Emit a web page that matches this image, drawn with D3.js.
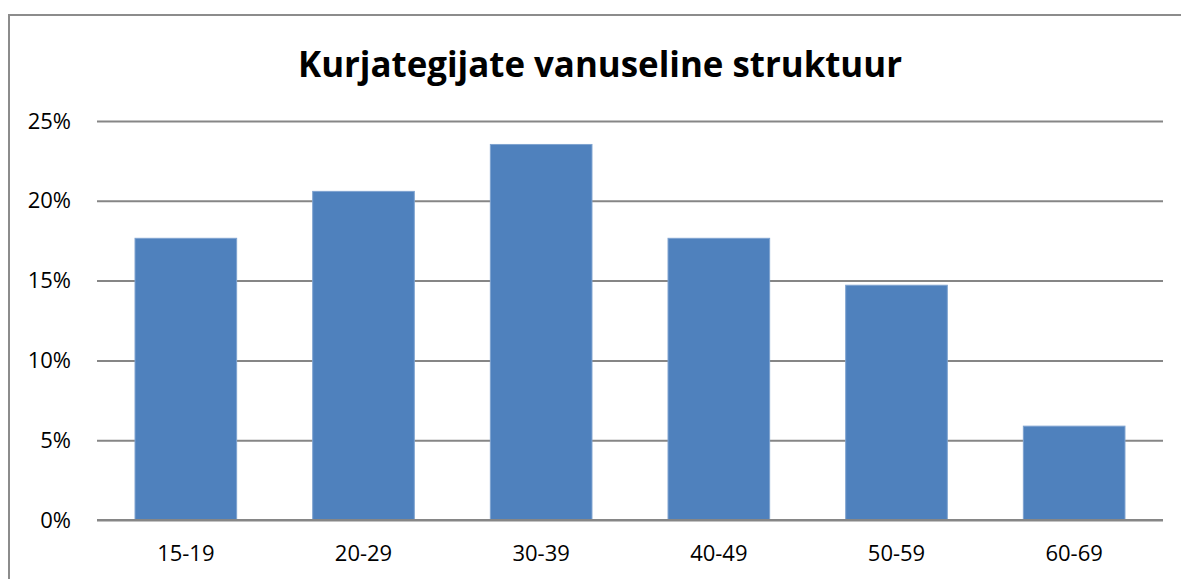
<!DOCTYPE html>
<html lang="et">
<head>
  <meta charset="UTF-8" />
  <title>Kurjategijate vanuseline struktuur</title>
  <script src="https://d3js.org/d3.v7.min.js"></script>
  <style>
    body {margin: 0; background: #fff;}
    svg {display: block; font-family: "Open Sans", "Noto Sans", sans-serif;}
  </style>
</head>
<body>
<script>
  // ****DATA****
  const ageGroups = ["15-19", "20-29", "30-39", "40-49", "50-59", "60-69"];
  const shares = [0.1765, 0.2059, 0.2353, 0.1765, 0.1471, 0.0588];
  const yTicks = [0, 0.05, 0.10, 0.15, 0.20, 0.25];
  const chartTitle = "Kurjategijate vanuseline struktuur";

  // ****SVG CANVAS****
  const width = 1181;
  const height = 579;
  const plotLeft = 97;
  const plotRight = 1163;
  const plotTop = 121;
  const plotBottom = 520;

  const svg = d3.select("body")
                .append("svg")
                .attr("width", width)
                .attr("height", height);

  // chart frame (runs off the right and bottom edge)
  svg.append("rect")
     .attr("x", 9)
     .attr("y", 15)
     .attr("width", 1200)
     .attr("height", 600)
     .attr("fill", "none")
     .attr("stroke", "#8c8c8c")
     .attr("stroke-width", 2);

  // ****SCALES****
  const xScale = d3.scaleBand()
                   .domain(ageGroups)
                   .range([plotLeft, plotRight])
                   .paddingInner(0.428)
                   .paddingOuter(0.214);

  const yScale = d3.scaleLinear()
                   .domain([0, 0.25])
                   .range([plotBottom, plotTop]);

  // ****GRIDLINES + Y LABELS****
  const yAxis = d3.axisLeft(yScale)
                  .tickValues(yTicks)
                  .tickSize(-(plotRight - plotLeft))
                  .tickPadding(26)
                  .tickFormat(d3.format(".0%"));

  const gy = svg.append("g")
                .attr("transform", `translate(${plotLeft}, 0)`)
                .call(yAxis);
  gy.attr("font-size", null).attr("font-family", null);
  gy.select(".domain").remove();
  gy.selectAll(".tick line")
    .attr("stroke", "#868686")
    .attr("stroke-width", 2);
  gy.selectAll(".tick text")
    .style("font-size", "22px")
    .attr("fill", "#000");

  // ****BARS****
  svg.selectAll(".bar")
     .data(ageGroups)
     .join("rect")
     .attr("class", "bar")
     .attr("x", (d) => xScale(d))
     .attr("y", (d, i) => yScale(shares[i]))
     .attr("width", xScale.bandwidth())
     .attr("height", (d, i) => yScale(0) - yScale(shares[i]))
     .attr("fill", "#4f81bd")
     .attr("stroke", "#7fa3d0")
     .attr("stroke-width", 1);

  // baseline over the bars
  svg.append("line")
     .attr("x1", plotLeft)
     .attr("x2", plotRight)
     .attr("y1", yScale(0))
     .attr("y2", yScale(0))
     .attr("stroke", "#868686")
     .attr("stroke-width", 2);

  // ****X LABELS****
  const xAxis = d3.axisBottom(xScale).tickSize(0).tickPadding(25);
  const gx = svg.append("g")
                .attr("transform", `translate(0, ${plotBottom})`)
                .call(xAxis);
  gx.attr("font-size", null).attr("font-family", null);
  gx.select(".domain").remove();
  gx.selectAll(".tick text")
    .style("font-size", "22px")
    .attr("fill", "#000");

  // ****TITLE****
  svg.append("text")
     .attr("x", 600)
     .attr("y", 77)
     .attr("text-anchor", "middle")
     .attr("font-size", 35)
     .attr("font-weight", "bold")
     .attr("textLength", 604)
     .attr("lengthAdjust", "spacingAndGlyphs")
     .text(chartTitle);
</script>
</body>
</html>
